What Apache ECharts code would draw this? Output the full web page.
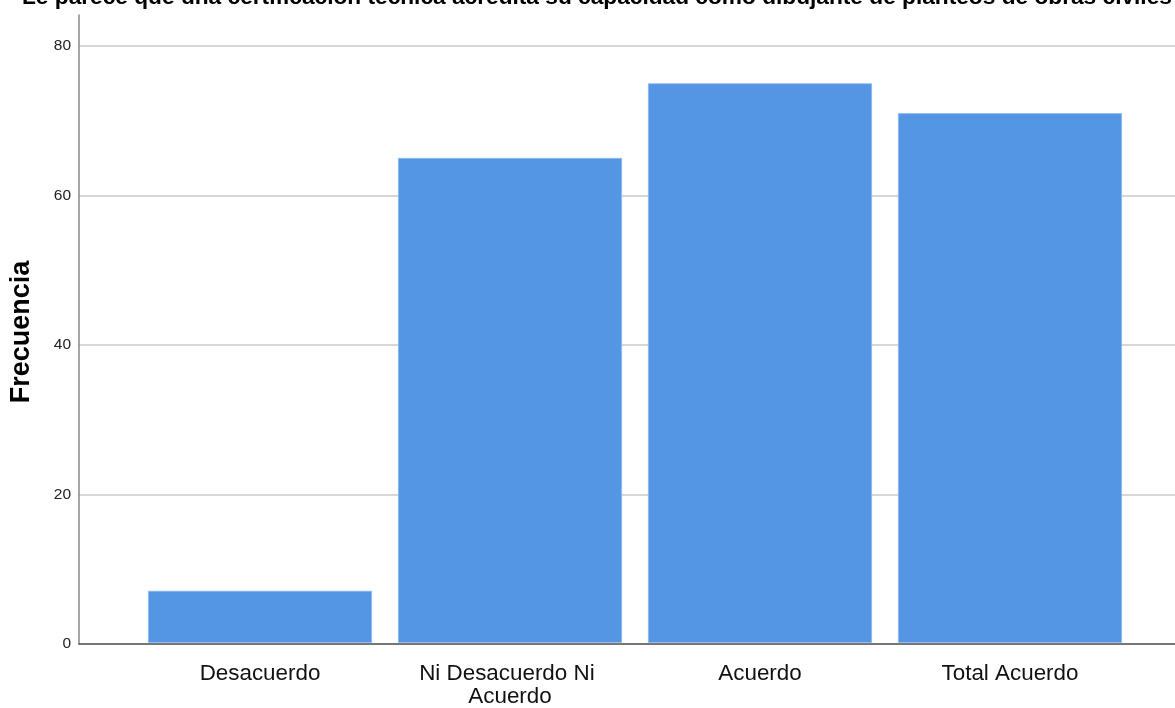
<!DOCTYPE html>
<html>
<head>
<meta charset="utf-8">
<script src="https://cdn.jsdelivr.net/npm/echarts@6/dist/echarts.min.js"></script>
<style>html,body{margin:0;padding:0;background:#fff;}#c{width:1175px;height:708px;}</style>
</head>
<body>
<div id="c"></div>
<script>
const titleText = "Le parece que una certificación técnica acredita su capacidad como dibujante de planteos de obras civiles";
const categories = ["Desacuerdo", "Ni Desacuerdo Ni Acuerdo", "Acuerdo", "Total Acuerdo"];
const frecuencia = [7, 65, 75, 71];
const yTicks = [0, 20, 40, 60, 80];

const sans = "'Liberation Sans', Arial, sans-serif";
const chart = echarts.init(document.getElementById('c'));
chart.setOption({
  backgroundColor: '#fff',
  animation: false,
  title: {
    text: titleText,
    left: 17, top: -19,
    textStyle: { fontFamily: sans, fontWeight: 'bold', fontSize: 22.7, color: '#000' }
  },
  grid: [
    { left: 79, right: 0, top: 46, bottom: 64 },
    { left: 135, right: 40, top: 46, bottom: 64 },
    { left: 79, width: 10, top: 15, bottom: 64 }
  ],
  xAxis: [
    { gridIndex: 0, type: 'value', min: 0, max: 1,
      axisLine: { show: true, lineStyle: { color: '#555', width: 1.5 } },
      axisTick: { show: false }, axisLabel: { show: false }, splitLine: { show: false } },
    { gridIndex: 1, type: 'category', data: categories,
      axisLine: { show: false }, axisTick: { show: false },
      axisLabel: { fontFamily: sans, fontSize: 22.4, color: '#111', lineHeight: 23, margin: 19,
                   width: 200, overflow: 'break', interval: 0 } },
    { gridIndex: 2, type: 'value', show: false, min: 0, max: 1 }
  ],
  yAxis: [
    { gridIndex: 0, type: 'value', min: yTicks[0], max: yTicks[yTicks.length - 1], interval: 20,
      name: 'Frecuencia', nameLocation: 'middle', nameGap: 44,
      nameTextStyle: { fontFamily: sans, fontWeight: 'bold', fontSize: 27, color: '#000',
                       padding: [0, 0, 0, 26] },
      axisLine: { show: false },
      axisTick: { show: false },
      axisLabel: { fontFamily: sans, fontSize: 15.5, color: '#222', margin: 8 },
      splitLine: { show: true, lineStyle: { color: '#c8c8c8', width: 1.5 } } },
    { gridIndex: 1, type: 'value', min: 0, max: 80, show: false, splitLine: { show: false } },
    { gridIndex: 2, type: 'value', min: 0, max: 1,
      axisLine: { show: true, lineStyle: { color: '#888', width: 1.5 } },
      axisTick: { show: false }, axisLabel: { show: false }, splitLine: { show: false } }
  ],
  series: [{
    type: 'bar', xAxisIndex: 1, yAxisIndex: 1,
    data: frecuencia, barWidth: 224,
    itemStyle: { color: '#5596E4', borderColor: '#8db8ee', borderWidth: 0.8 }
  }]
});
</script>
</body>
</html>
